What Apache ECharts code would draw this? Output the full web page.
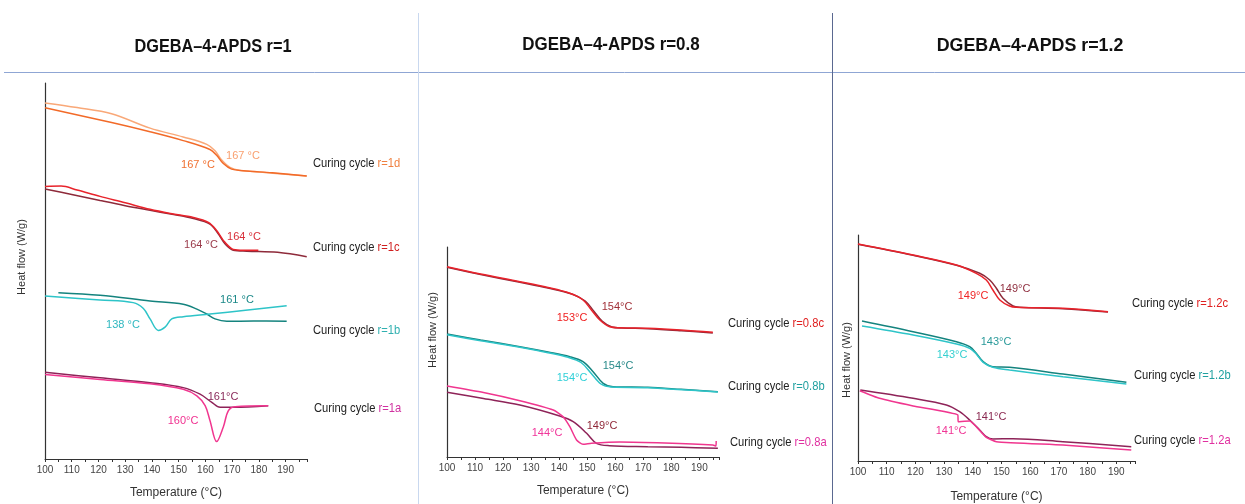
<!DOCTYPE html>
<html>
<head>
<meta charset="utf-8">
<script src="https://cdn.jsdelivr.net/npm/echarts@6/dist/echarts.min.js"></script>
<style>
html,body{margin:0;padding:0;background:#fff;}
#chart{width:1245px;height:504px;}
</style>
</head>
<body>
<div id="chart"></div>
<script>
// ---------- DATA (temperature °C, relative heat flow, arbitrary offset units) ----------
const panelTitles = ['DGEBA\u20134-APDS r=1', 'DGEBA\u20134-APDS r=0.8', 'DGEBA\u20134-APDS r=1.2'];
const xAxisTitle = 'Temperature (\u00B0C)';
const yAxisTitle = 'Heat flow (W/g)';
const cyclePrefix = 'Curing cycle ';

// Panel r=1
const r1d_light = [[100,36.27],[112,35.8],[124.9,35.17],[139.3,33.7],[151.7,32.8],[160.5,32.05],[163.6,31.4],[166.1,30.45],[169.2,29.7],[172.9,29.4],[182.9,29.17],[197.9,28.83]];
const r1d_dark  = [[100,35.77],[124.9,34.27],[139.3,33.33],[151.7,32.43],[161.7,31.53],[164.2,30.93],[166.7,30.1],[169.8,29.53],[174.2,29.37],[185,29.15],[197.9,28.83]];
const r1c_red   = [[100,27.77],[106,27.8],[112,27.4],[120.6,26.75],[130,26.1],[139.3,25.43],[147,25.0],[155.5,24.6],[161.1,24.1],[164.2,23.27],[166.7,22.27],[169.8,21.43],[173.0,21.27],[179.8,21.27]];
const r1c_dark  = [[100,27.5],[110,26.95],[120.6,26.33],[130,25.8],[139.3,25.33],[147,24.95],[155.5,24.5],[161.7,23.93],[164.8,22.93],[167.3,21.93],[170.4,21.27],[175.5,21.17],[187,21.05],[197.9,20.6]];
const r1b_teal  = [[105,16.93],[120.6,16.67],[139.3,16.1],[151.7,15.77],[156.8,15.27],[160.5,14.77],[163.6,14.27],[168.0,14.03],[178,14.05],[190.4,14.03]];
const r1b_cyan  = [[100,16.6],[120.6,16.2],[133.0,15.93],[136.8,15.33],[139.3,14.27],[142.4,13.1],[144.9,13.43],[147.4,14.27],[151.7,14.5],[161.7,14.77],[175,15.15],[190.4,15.6]];
const r1a_dark  = [[100,8.83],[120.6,8.27],[139.3,7.77],[151.7,7.27],[158.0,6.6],[162.4,5.77],[165.5,5.27],[170.4,5.27],[183.5,5.43]];
const r1a_pink  = [[100,8.6],[120.6,8.1],[139.3,7.67],[151.7,7.1],[156.8,6.43],[159.9,5.43],[161.7,3.93],[164.2,1.77],[166.7,3.27],[168.6,4.93],[171.1,5.33],[183.5,5.43]];

// Panel r=0.8
const r08c_red  = [[100,19.03],[112,18.3],[126.0,17.53],[136,16.95],[143.8,16.37],[148.5,15.7],[151.5,14.7],[154.5,13.7],[158.0,13.03],[161.6,12.93],[171.6,12.87],[183.5,12.7],[194.8,12.47]];
const r08c_dark = [[100,18.97],[112,18.25],[126.0,17.47],[136,16.9],[144.5,16.3],[149.3,15.6],[152.3,14.6],[155.3,13.6],[158.8,13.0],[162.4,12.9],[171.6,12.83],[183.5,12.63],[194.8,12.4]];
const r08b_teal = [[100,12.3],[112,11.7],[126.0,11.03],[136,10.5],[143.8,10.03],[148.5,9.53],[152.1,8.53],[155.7,7.37],[159.2,7.03],[171.6,6.97],[183.5,6.77],[196.6,6.53]];
const r08b_cyan = [[100,12.23],[112,11.62],[126.0,10.97],[136,10.43],[143.2,9.97],[147.8,9.45],[151.3,8.4],[154.9,7.3],[158.6,7.0],[171.6,6.93],[196.6,6.5]];
const r08a_pink = [[100,7.1],[113,6.45],[126.0,5.63],[137.9,4.7],[141.4,4.03],[143.8,3.03],[146.2,1.7],[148.5,1.27],[151.5,1.37],[161.6,1.5],[177.6,1.4],[194.8,1.2],[195.9,1.1],[196.0,1.6]];
const r08a_dark = [[100,6.47],[113,5.85],[126.0,5.2],[140.2,4.1],[145.0,3.53],[149.8,2.37],[153.3,1.37],[158.0,1.13],[171.6,1.03],[183.5,0.97],[196.6,0.87]];

// Panel r=1.2
const r12c_red  = [[100,21.7],[119.2,20.6],[134.3,19.6],[141.2,18.77],[144.7,18.1],[147.0,17.1],[149.4,16.1],[152.8,15.5],[155.2,15.37],[171.4,15.27],[187.1,14.93]];
const r12c_dark = [[100,21.67],[119.2,20.57],[134.3,19.57],[142.4,18.77],[145.9,18.1],[148.2,17.27],[150.5,16.27],[154.0,15.5],[156.3,15.37],[171.4,15.23],[187.1,14.9]];
const r12b_teal = [[101.4,14.0],[119.2,12.93],[134.3,11.93],[138.9,11.43],[141.2,10.77],[143.6,9.93],[147.0,9.43],[152.8,9.37],[171.4,8.7],[193.5,7.87]];
const r12b_cyan = [[101.4,13.5],[119.2,12.6],[134.3,11.7],[138.9,11.27],[141.2,10.7],[143.6,9.87],[147.0,9.37],[152.8,9.1],[171.4,8.43],[193.5,7.7]];
const r12a_dark = [[100.8,7.1],[119.2,6.27],[130.8,5.6],[135.4,4.93],[138.9,4.1],[142.4,3.1],[144.7,2.43],[147.0,2.2],[154.0,2.23],[171.4,1.93],[195.2,1.43]];
const r12a_pink = [[100.6,7.03],[107.5,6.27],[119.2,5.5],[134.8,4.6],[134.9,3.93],[138.9,4.0],[141.2,3.43],[144.7,2.37],[148.2,1.93],[171.4,1.6],[195.2,1.1]];

// Tg labels (text only)
const tgLabels1 = ['167 \u00B0C','167 \u00B0C','164 \u00B0C','164 \u00B0C','161 \u00B0C','138 \u00B0C','161\u00B0C','160\u00B0C'];
const tgLabels2 = ['154\u00B0C','153\u00B0C','154\u00B0C','154\u00B0C','149\u00B0C','144\u00B0C'];
const tgLabels3 = ['149\u00B0C','149\u00B0C','143\u00B0C','143\u00B0C','141\u00B0C','141\u00B0C'];
const cycleIds1 = ['r=1d','r=1c','r=1b','r=1a'];
const cycleIds2 = ['r=0.8c','r=0.8b','r=0.8a'];
const cycleIds3 = ['r=1.2c','r=1.2b','r=1.2a'];

// ---------- CHART ----------
const chart = echarts.init(document.getElementById('chart'), null, {renderer:'canvas'});

const C = {
  lightOrange:'#f9a878', orange:'#f26a28',
  red:'#e8232b', darkRed:'#8e2a3a',
  teal:'#14837e', cyan:'#2ec4c8',
  plum:'#8e2358', pink:'#f0368f'
};
const FONT = '"Liberation Sans", Arial, sans-serif';

const grids = [
  {left:45, top:83, width:262, height:383},
  {left:447, top:247, width:272, height:210},
  {left:858, top:235, width:277, height:226}
];
const xMax = [198, 197, 196.5];
const yMax = [38.3, 21, 22.6];

function xAxisCfg(i){
  return {
    type:'value', gridIndex:i, min:100, max:xMax[i], interval:10,
    name:xAxisTitle, nameLocation:'middle', nameGap: i===2?30:28,
    nameTextStyle:{fontFamily:FONT, fontSize:12, color:'#333'},
    axisLine:{show:true, onZero:false, lineStyle:{color:'#333', width:1}},
    axisTick:{show:true, length:3, lineStyle:{color:'#333'}},
    minorTick:{show:true, splitNumber:2, length:3, lineStyle:{color:'#333'}},
    axisLabel:{fontFamily:FONT, fontSize:10, color:'#444', margin:6, showMaxLabel:false},
    splitLine:{show:false}
  };
}
function yAxisCfg(i){
  return {
    type:'value', gridIndex:i, min:0, max:yMax[i],
    axisLine:{show:true, onZero:false, lineStyle:{color:'#333', width:1.2}},
    axisTick:{show:false}, axisLabel:{show:false}, splitLine:{show:false}
  };
}
function line(data, color, gi, opts){
  return Object.assign({
    type:'line', data:data, xAxisIndex:gi, yAxisIndex:gi,
    showSymbol:false, symbol:'none', smooth:0.35,
    lineStyle:{color:color, width:1.5}, itemStyle:{color:color},
    silent:true, animation:false, z:3
  }, opts||{});
}

const series = [
  line(r1d_light, C.lightOrange, 0), line(r1d_dark, C.orange, 0),
  line(r1c_dark, C.darkRed, 0), line(r1c_red, C.red, 0),
  line(r1b_teal, C.teal, 0), line(r1b_cyan, C.cyan, 0),
  line(r1a_dark, C.plum, 0), line(r1a_pink, C.pink, 0),

  line(r08c_dark, C.darkRed, 1), line(r08c_red, C.red, 1),
  line(r08b_teal, C.teal, 1), line(r08b_cyan, C.cyan, 1),
  line(r08a_dark, C.plum, 1), line(r08a_pink, C.pink, 1, {smooth:0.2}),

  line(r12c_dark, C.darkRed, 2), line(r12c_red, C.red, 2),
  line(r12b_teal, C.teal, 2), line(r12b_cyan, C.cyan, 2),
  line(r12a_dark, C.plum, 2), line(r12a_pink, C.pink, 2, {smooth:0.15})
];

function txt(x, y, s, color, size, extra){
  return Object.assign({
    type:'text', x:x, y:y, silent:true, z:10,
    style:{text:s, fill:color, font: (size||11)+'px '+FONT, align:'center', verticalAlign:'middle'}
  }, extra||{});
}
function title(x, y, s, sx){
  return {
    type:'text', x:x, y:y, scaleX:sx, silent:true, z:10,
    style:{text:s, fill:'#111', font:'bold 18px '+FONT, align:'center', verticalAlign:'middle'}
  };
}
function cycleText(x, y, id, color){
  return {
    type:'text', x:x, y:y, scaleX:0.86, silent:true, z:10,
    style:{
      text:'{a|'+cyclePrefix+'}{b|'+id+'}',
      align:'left', verticalAlign:'middle',
      rich:{
        a:{fill:'#222', font:'13px '+FONT},
        b:{fill:color, font:'13px '+FONT}
      }
    }
  };
}
function vline(x, y1, y2, color, w){
  return {type:'line', silent:true, z:1, shape:{x1:x, y1:y1, x2:x, y2:y2}, style:{stroke:color, lineWidth:w||1}};
}

const graphics = [
  // frame lines
  {type:'line', silent:true, shape:{x1:4, y1:72.5, x2:1245, y2:72.5}, style:{stroke:'#8fa6d4', lineWidth:1}},
  vline(418.5, 13, 504, '#c9d8ef', 1),
  vline(832.5, 13, 504, '#5a6890', 1),

  // panel titles
  title(213, 47, panelTitles[0], 0.905),
  title(611, 45, panelTitles[1], 0.94),
  title(1030, 46, panelTitles[2], 0.99),

  // y axis titles
  txt(22, 257, yAxisTitle, '#333', 11, {rotation:Math.PI/2}),
  txt(433, 330, yAxisTitle, '#333', 11, {rotation:Math.PI/2}),
  txt(847, 360, yAxisTitle, '#333', 11, {rotation:Math.PI/2}),

  // panel 1 Tg labels
  txt(243, 156, tgLabels1[0], '#f9a070', 11),
  txt(198, 165, tgLabels1[1], '#f07030', 11),
  txt(244, 237, tgLabels1[2], '#d8303a', 11),
  txt(201, 245, tgLabels1[3], '#9a3a4a', 11),
  txt(237, 300, tgLabels1[4], '#1a8888', 11),
  txt(123, 325, tgLabels1[5], '#30b8c0', 11),
  txt(223, 397, tgLabels1[6], '#8a2a5a', 11),
  txt(183, 421, tgLabels1[7], '#f03090', 11),

  // panel 2 Tg labels
  txt(617, 307, tgLabels2[0], '#a03038', 11),
  txt(572, 318, tgLabels2[1], '#f02020', 11),
  txt(618, 366, tgLabels2[2], '#2a8a8a', 11),
  txt(572, 378, tgLabels2[3], '#30d0d8', 11),
  txt(602, 426, tgLabels2[4], '#902838', 11),
  txt(547, 433, tgLabels2[5], '#f0359a', 11),

  // panel 3 Tg labels
  txt(1015, 289, tgLabels3[0], '#903040', 11),
  txt(973, 296, tgLabels3[1], '#f02525', 11),
  txt(996, 342, tgLabels3[2], '#2a9a9a', 11),
  txt(952, 355, tgLabels3[3], '#35d0d0', 11),
  txt(991, 417, tgLabels3[4], '#8a2850', 11),
  txt(951, 431, tgLabels3[5], '#f03595', 11),

  // curing cycle labels
  cycleText(313, 163, cycleIds1[0], '#f08040'),
  cycleText(313, 247, cycleIds1[1], '#d02020'),
  cycleText(313, 330, cycleIds1[2], '#30b0b0'),
  cycleText(314, 408, cycleIds1[3], '#d030a0'),
  cycleText(728, 323, cycleIds2[0], '#e02020'),
  cycleText(728, 386, cycleIds2[1], '#20a0a0'),
  cycleText(730, 442, cycleIds2[2], '#e030a0'),
  cycleText(1132, 303, cycleIds3[0], '#e02020'),
  cycleText(1134, 375, cycleIds3[1], '#20a0a0'),
  cycleText(1134, 440, cycleIds3[2], '#e030a0')
];

chart.setOption({
  animation:false,
  backgroundColor:'#fff',
  grid: grids,
  xAxis: [0,1,2].map(xAxisCfg),
  yAxis: [0,1,2].map(yAxisCfg),
  series: series,
  graphic: graphics
});
</script>
</body>
</html>
